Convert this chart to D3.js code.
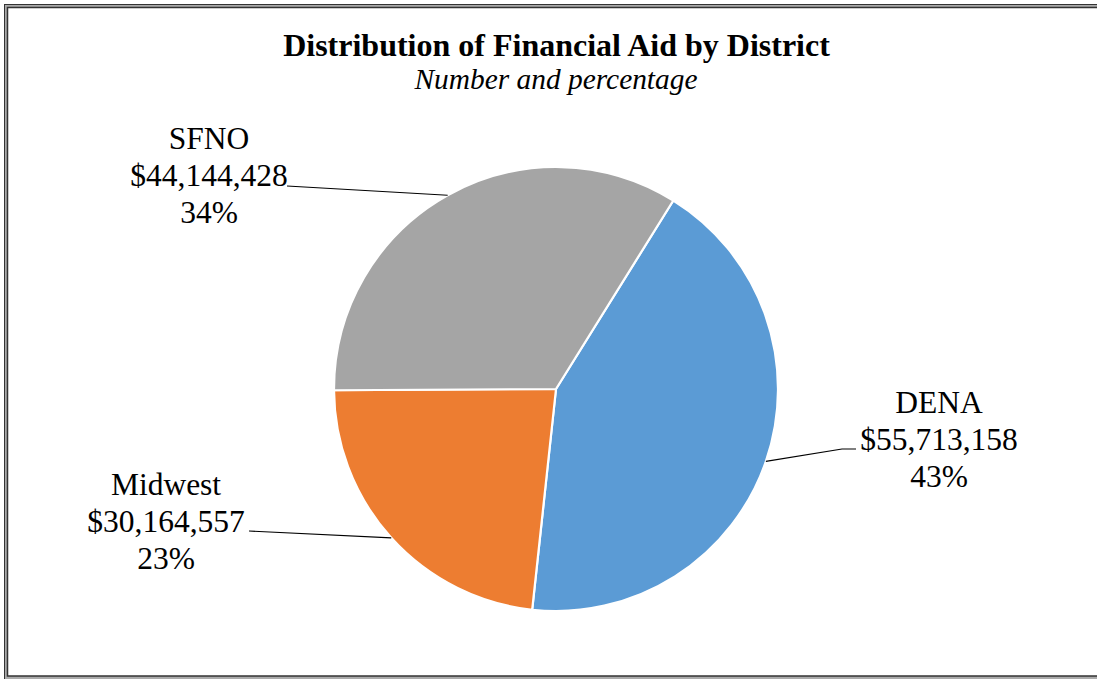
<!DOCTYPE html>
<html>
<head>
<meta charset="utf-8">
<script src="https://cdn.jsdelivr.net/npm/d3@7"></script>
<style>
  html, body { margin: 0; padding: 0; background: #fff; }
  svg { display: block; }
  text { font-family: "Liberation Serif", "Times New Roman", serif; fill: #000; }
</style>
</head>
<body>
<svg id="chart" width="1097" height="679"></svg>
<script>
const categories = ["DENA", "Midwest", "SFNO"];
const amounts = [55713158, 30164557, 44144428];
const percentLabels = ["43%", "23%", "34%"];
const colors = ["#5B9BD5", "#ED7D31", "#A5A5A5"];
const title = "Distribution of Financial Aid by District";
const subtitle = "Number and percentage";
// label anchor points (centre x, first baseline y) and leader elbow points
const labelAnchors = [[939, 413], [166, 495], [209, 149]];
const leaderElbows = [[[856, 449], [842, 449]], [[249, 531], [249, 531]], [[287, 186], [287, 186]]];

const svg = d3.select("#chart");
const W = 1097, H = 679;

// frame (double border)
svg.append("rect").attr("x", 5.5).attr("y", 5.5).attr("width", W + 10).attr("height", 672)
  .attr("fill", "none").attr("stroke", "#aaa").attr("stroke-width", 3);
svg.append("rect").attr("x", 4.5).attr("y", 4.5).attr("width", W + 10).attr("height", 680)
  .attr("fill", "none").attr("stroke", "#333").attr("stroke-width", 1);
svg.append("rect").attr("x", 7.5).attr("y", 7.5).attr("width", W + 10).attr("height", 668.5)
  .attr("fill", "none").attr("stroke", "#333").attr("stroke-width", 1.5);

svg.append("text").attr("x", 556.5).attr("y", 56).attr("text-anchor", "middle")
  .attr("font-size", 32).attr("font-weight", "bold").text(title);
svg.append("text").attr("x", 556).attr("y", 89).attr("text-anchor", "middle")
  .attr("font-size", 29.4).attr("font-style", "italic").text(subtitle);

const cx = 556, cy = 389, R = 222;
const start = 31.9 * Math.PI / 180;
const pie = d3.pie().sort(null).value(d => d).startAngle(start).endAngle(start + 2 * Math.PI);
const arcs = pie(amounts);
const arc = d3.arc().innerRadius(0).outerRadius(R);

const g = svg.append("g").attr("transform", `translate(${cx},${cy})`);
g.selectAll("path").data(arcs).join("path")
  .attr("d", arc)
  .attr("fill", (d, i) => colors[i])
  .attr("stroke", "#fff").attr("stroke-width", 2.2).attr("stroke-linejoin", "round");

const fmt = d3.format("$,");
arcs.forEach((d, i) => {
  const mid = (d.startAngle + d.endAngle) / 2;
  const px = cx + R * Math.sin(mid), py = cy - R * Math.cos(mid);
  const [e1, e2] = leaderElbows[i];
  svg.append("polyline")
    .attr("points", [[px, py], e2, e1].map(p => p.join(",")).join(" "))
    .attr("fill", "none").attr("stroke", "#000").attr("stroke-width", 1.2);
  const [lx, ly] = labelAnchors[i];
  const t = svg.append("text").attr("text-anchor", "middle").attr("font-size", 31.5);
  [categories[i], fmt(amounts[i]), percentLabels[i]].forEach((s, k) => {
    t.append("tspan").attr("x", lx).attr("y", ly + k * 36.8).text(s);
  });
});
</script>
</body>
</html>
